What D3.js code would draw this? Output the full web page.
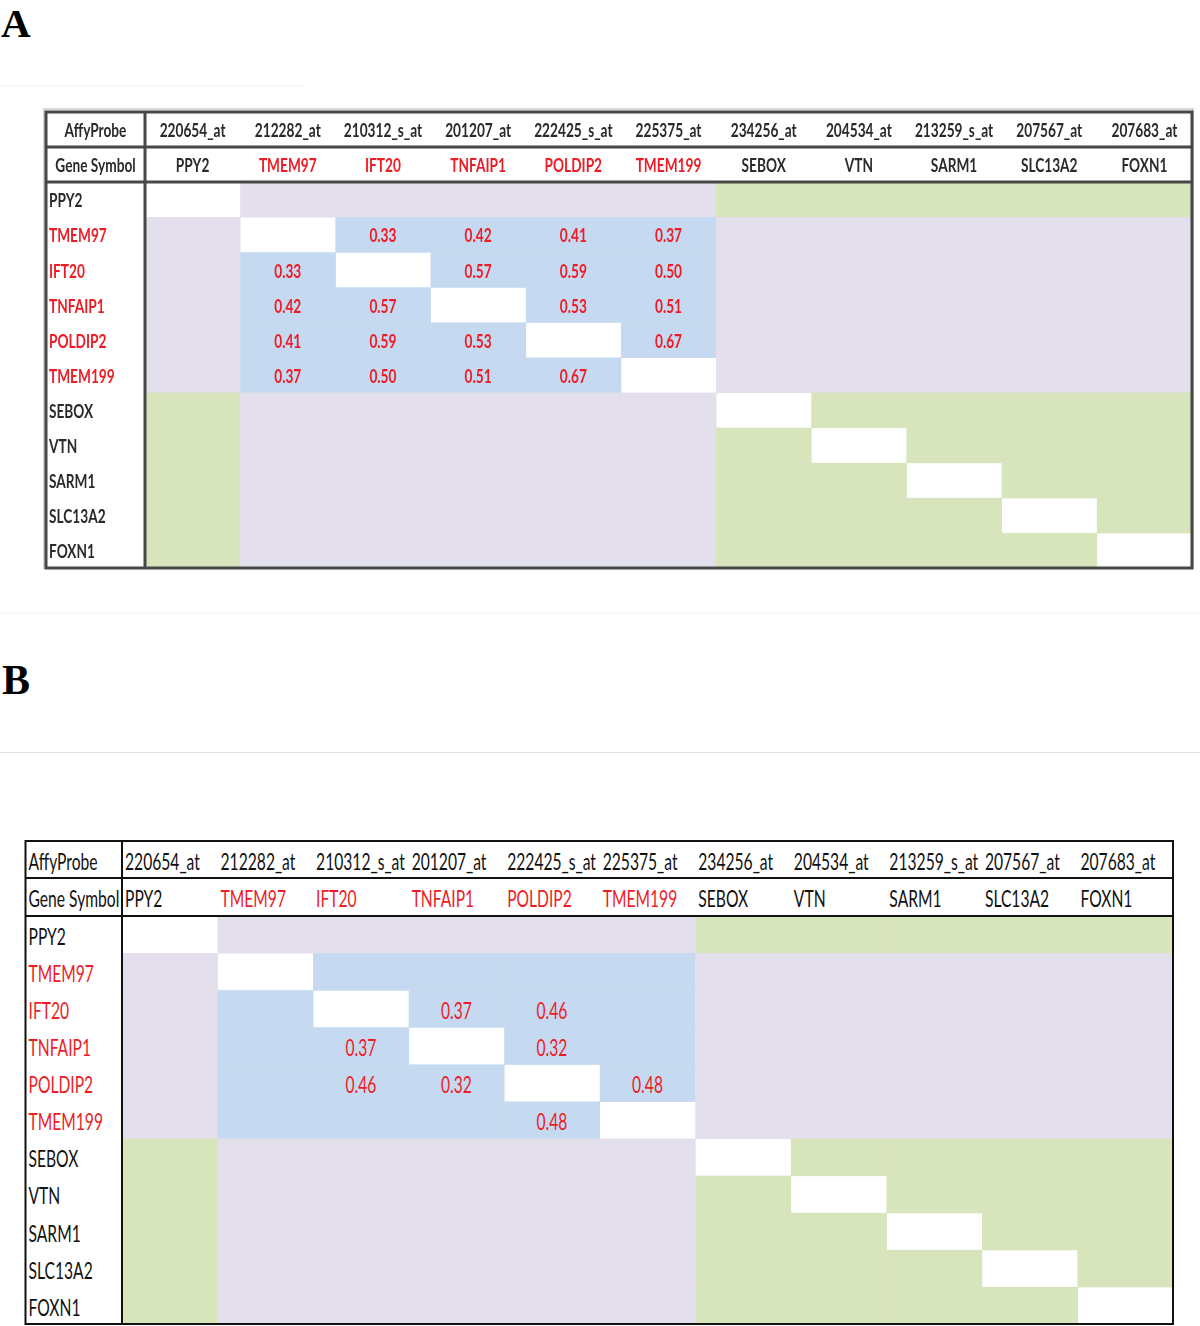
<!DOCTYPE html>
<html><head><meta charset="utf-8">
<script src="https://cdn.jsdelivr.net/npm/d3@7"></script>
<style>body{margin:0;background:#fff}svg{display:block}</style>
</head><body>
<svg id="c" width="1200" height="1326"></svg>
<script>
// ---------- data ----------
const genes = ["PPY2","TMEM97","IFT20","TNFAIP1","POLDIP2","TMEM199","SEBOX","VTN","SARM1","SLC13A2","FOXN1"];
const probes = ["220654_at","212282_at","210312_s_at","201207_at","222425_s_at","225375_at","234256_at","204534_at","213259_s_at","207567_at","207683_at"];
const redGenes = ["TMEM97","IFT20","TNFAIP1","POLDIP2","TMEM199"];
const headerLabels = ["AffyProbe","Gene Symbol"];
const panelLabels = ["A","B"];
// upper-triangle correlations (mirrored)
const corrA = [
  ["TMEM97","IFT20",0.33],["TMEM97","TNFAIP1",0.42],["TMEM97","POLDIP2",0.41],["TMEM97","TMEM199",0.37],
  ["IFT20","TNFAIP1",0.57],["IFT20","POLDIP2",0.59],["IFT20","TMEM199",0.50],
  ["TNFAIP1","POLDIP2",0.53],["TNFAIP1","TMEM199",0.51],
  ["POLDIP2","TMEM199",0.67]
];
const corrB = [
  ["IFT20","TNFAIP1",0.37],["IFT20","POLDIP2",0.46],
  ["TNFAIP1","POLDIP2",0.32],
  ["POLDIP2","TMEM199",0.48]
];

const svg = d3.select("#c");
const COL = {lav:"#e4dfec", green:"#d8e4bc", blue:"#c5d9f1", red:"#ee1c25"};

// faint separator lines
svg.append("line").attr("x1",0).attr("x2",305).attr("y1",86).attr("y2",86).attr("stroke","#efefef").attr("stroke-width",1);
svg.append("line").attr("x1",0).attr("x2",1200).attr("y1",613).attr("y2",613).attr("stroke","#f4f4f4").attr("stroke-width",1);
svg.append("line").attr("x1",0).attr("x2",1200).attr("y1",752.5).attr("y2",752.5).attr("stroke","#e2e2e2").attr("stroke-width",1);

// panel letters
svg.append("text").attr("x",1).attr("y",37).text(panelLabels[0])
  .attr("font-family","Liberation Serif, Times New Roman, serif").attr("font-weight","bold").attr("font-size",41).attr("fill","#000");
svg.append("text").attr("x",2).attr("y",694).text(panelLabels[1])
  .attr("font-family","Liberation Serif, Times New Roman, serif").attr("font-weight","bold").attr("font-size",42).attr("fill","#000");

const defs = svg.append("defs");
defs.append("filter").attr("id","soft").append("feGaussianBlur").attr("stdDeviation",0.45);

function drawTable(cfg){
  const g = svg.append("g");
  const x = d3.scaleBand().domain(genes).range([cfg.colStart, cfg.right]);
  const y = d3.scaleBand().domain(genes).range([cfg.rowStart, cfg.bottom]);
  const isRed = d => redGenes.includes(d);
  const vals = new Map();
  cfg.corr.forEach(([a,b,v])=>{vals.set(a+"|"+b,v); vals.set(b+"|"+a,v);});

  g.append("rect").attr("x",cfg.left).attr("y",cfg.top).attr("width",cfg.right-cfg.left).attr("height",cfg.bottom-cfg.top).attr("fill","#fff");

  const cells = [];
  genes.forEach(r=>genes.forEach(c=>cells.push({r,c})));
  const fillOf = d => d.r===d.c ? "#fff" : (isRed(d.r)===isRed(d.c) ? (isRed(d.r)?COL.blue:COL.green) : COL.lav);
  g.selectAll("rect.cell").data(cells.filter(d=>d.r!==d.c)).join("rect").attr("class","cell")
    .attr("x",d=>x(d.c)).attr("y",d=>y(d.r)).attr("width",x.bandwidth()+0.5).attr("height",y.bandwidth()+0.5)
    .attr("fill",fillOf);
  g.selectAll("rect.diag").data(cells.filter(d=>d.r===d.c)).join("rect").attr("class","diag")
    .attr("x",d=>x(d.c)+0.6).attr("y",d=>y(d.r)+1.2).attr("width",x.bandwidth()-1.2).attr("height",y.bandwidth()-2.2)
    .attr("fill","#fff");

  const tg = g.append("g").attr("font-family","Lato, 'Open Sans', sans-serif")
     .attr("font-size",cfg.fs).attr("font-weight",cfg.fw);
  if(cfg.blur) tg.attr("filter","url(#soft)");
  function txt(str, px, py, anchor, fill){
    tg.append("text").attr("transform",`translate(${px},${py}) scale(${cfg.sx},1)`)
      .attr("text-anchor",anchor).attr("dy","0.36em").attr("fill",fill).text(str);
  }
  const h1 = (cfg.top+cfg.sep1)/2 + cfg.tdy, h2 = (cfg.sep1+cfg.sep2)/2 + cfg.tdy;
  if(cfg.center){
    txt(headerLabels[0], (cfg.left+cfg.colStart)/2, h1, "middle", cfg.ink);
    txt(headerLabels[1], (cfg.left+cfg.colStart)/2, h2, "middle", cfg.ink);
  } else {
    txt(headerLabels[0], cfg.left+3, h1, "start", cfg.ink);
    txt(headerLabels[1], cfg.left+3, h2, "start", cfg.ink);
  }
  genes.forEach((gname,i)=>{
    const cx = cfg.center ? x(gname)+x.bandwidth()/2 : x(gname)+cfg.padX;
    const an = cfg.center ? "middle" : "start";
    txt(probes[i], cx, h1, an, cfg.ink);
    txt(gname, cx, h2, an, isRed(gname)?COL.red:cfg.ink);
    txt(gname, cfg.left+3, y(gname)+y.bandwidth()/2+cfg.tdy, "start", isRed(gname)?COL.red:cfg.ink);
  });
  cells.forEach(d=>{
    const v = vals.get(d.r+"|"+d.c);
    if(v!==undefined) txt(d3.format(".2f")(v), x(d.c)+x.bandwidth()/2, y(d.r)+y.bandwidth()/2+cfg.tdy, "middle", COL.red);
  });

  const lg = g.append("g").attr("stroke",cfg.line).attr("stroke-width",cfg.lw).attr("fill","none");
  if(cfg.shadow){
    g.insert("rect",":first-child").attr("x",cfg.left-2).attr("y",cfg.top-3).attr("width",cfg.right-cfg.left+3).attr("height",cfg.bottom-cfg.top+3)
      .attr("fill","none").attr("stroke","#d6d6d6").attr("stroke-width",2);
  }
  lg.append("rect").attr("x",cfg.left).attr("y",cfg.top).attr("width",cfg.right-cfg.left).attr("height",cfg.bottom-cfg.top);
  lg.append("line").attr("x1",cfg.left).attr("x2",cfg.right).attr("y1",cfg.sep1).attr("y2",cfg.sep1);
  lg.append("line").attr("x1",cfg.left).attr("x2",cfg.right).attr("y1",cfg.sep2).attr("y2",cfg.sep2);
  lg.append("line").attr("x1",cfg.colStart).attr("x2",cfg.colStart).attr("y1",cfg.top).attr("y2",cfg.bottom);
}

drawTable({left:46, right:1192, top:112, sep1:147, sep2:182, colStart:145, rowStart:182, bottom:568,
  corr:corrA, fs:19, fw:"bold", sx:0.72, center:true, padX:0, tdy:1, ink:"#2a2a2a",
  line:"#474747", lw:3, shadow:true, blur:true});
drawTable({left:25.5, right:1173, top:841, sep1:878, sep2:916, colStart:122, rowStart:916, bottom:1324,
  corr:corrB, fs:23, fw:"normal", sx:0.68, center:false, padX:3, tdy:2, ink:"#111",
  line:"#111", lw:2, shadow:false, blur:false});
</script>
</body></html>
